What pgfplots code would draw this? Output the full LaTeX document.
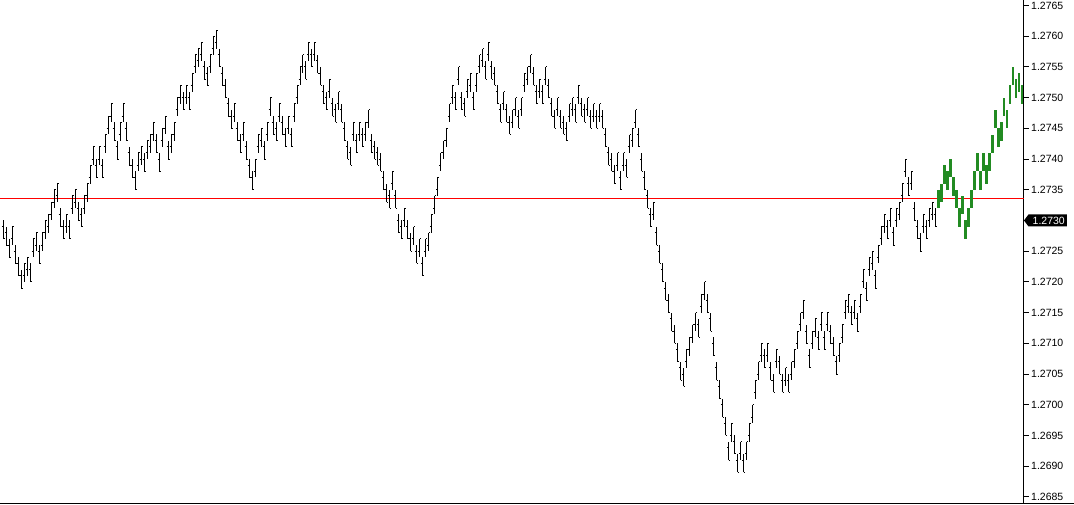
\documentclass[border=0pt]{standalone}
\usepackage{fontspec}
\setmainfont{Liberation Sans}
\usepackage{pgfplots}
\usepackage{pgfplotstable}
\pgfplotsset{compat=1.18}

\definecolor{gbar}{RGB}{34,139,34}

% open tick on the left, close tick on the right
\pgfdeclareplotmark{otick}{\pgfpathmoveto{\pgfqpoint{-1.5pt}{0pt}}\pgfpathlineto{\pgfqpoint{0pt}{0pt}}\pgfusepathqstroke}
\pgfdeclareplotmark{ctick}{\pgfpathmoveto{\pgfqpoint{0pt}{0pt}}\pgfpathlineto{\pgfqpoint{1.5pt}{0pt}}\pgfusepathqstroke}
\pgfdeclareplotmark{nomark}{}

% range bars: index, open, high, low, close
\pgfplotstableread{
i o h l c
0 1.2729 1.2730 1.2727 1.2727
1 1.2728 1.2729 1.2726 1.2726
2 1.2726 1.2727 1.2724 1.2724
3 1.2727 1.2729 1.2726 1.2729
4 1.2725 1.2726 1.2723 1.2723
5 1.2723 1.2724 1.2721 1.2721
6 1.2721 1.2722 1.2719 1.2719
7 1.2721 1.2723 1.2720 1.2723
8 1.2722 1.2724 1.2721 1.2724
9 1.2722 1.2723 1.2720 1.2720
10 1.2725 1.2727 1.2724 1.2727
11 1.2726 1.2728 1.2725 1.2728
12 1.2725 1.2726 1.2723 1.2723
13 1.2726 1.2728 1.2725 1.2728
14 1.2728 1.2730 1.2727 1.2730
15 1.2729 1.2731 1.2728 1.2731
16 1.2731 1.2733 1.2730 1.2733
17 1.2733 1.2735 1.2732 1.2735
18 1.2734 1.2736 1.2733 1.2736
19 1.2731 1.2732 1.2729 1.2729
20 1.2729 1.2730 1.2727 1.2727
21 1.2729 1.2731 1.2728 1.2731
22 1.2729 1.2730 1.2727 1.2727
23 1.2732 1.2734 1.2731 1.2734
24 1.2733 1.2735 1.2732 1.2735
25 1.2732 1.2733 1.2730 1.2730
26 1.2731 1.2732 1.2729 1.2729
27 1.2732 1.2734 1.2731 1.2734
28 1.2734 1.2736 1.2733 1.2736
29 1.2737 1.2739 1.2736 1.2739
30 1.2740 1.2742 1.2739 1.2742
31 1.2739 1.2740 1.2737 1.2737
32 1.2740 1.2742 1.2739 1.2742
33 1.2739 1.2740 1.2737 1.2737
34 1.2742 1.2744 1.2741 1.2744
35 1.2745 1.2747 1.2744 1.2747
36 1.2747 1.2749 1.2746 1.2749
37 1.2745 1.2746 1.2743 1.2743
38 1.2742 1.2743 1.2740 1.2740
39 1.2744 1.2746 1.2743 1.2746
40 1.2747 1.2749 1.2746 1.2749
41 1.2745 1.2746 1.2743 1.2743
42 1.2741 1.2742 1.2739 1.2739
43 1.2739 1.2740 1.2737 1.2737
44 1.2737 1.2738 1.2735 1.2735
45 1.2739 1.2741 1.2738 1.2741
46 1.2740 1.2742 1.2739 1.2742
47 1.2740 1.2741 1.2738 1.2738
48 1.2741 1.2743 1.2740 1.2743
49 1.2742 1.2744 1.2741 1.2744
50 1.2744 1.2746 1.2743 1.2746
51 1.2743 1.2744 1.2741 1.2741
52 1.2740 1.2741 1.2738 1.2738
53 1.2743 1.2745 1.2742 1.2745
54 1.2745 1.2747 1.2744 1.2747
55 1.2742 1.2743 1.2740 1.2740
56 1.2742 1.2744 1.2741 1.2744
57 1.2744 1.2746 1.2743 1.2746
58 1.2748 1.2750 1.2747 1.2750
59 1.2750 1.2752 1.2749 1.2752
60 1.2750 1.2751 1.2748 1.2748
61 1.2750 1.2752 1.2749 1.2752
62 1.2750 1.2751 1.2748 1.2748
63 1.2752 1.2754 1.2751 1.2754
64 1.2755 1.2757 1.2754 1.2757
65 1.2756 1.2758 1.2755 1.2758
66 1.2757 1.2759 1.2756 1.2759
67 1.2755 1.2756 1.2753 1.2753
68 1.2754 1.2755 1.2752 1.2752
69 1.2755 1.2757 1.2754 1.2757
70 1.2758 1.2760 1.2757 1.2760
71 1.2759 1.2761 1.2758 1.2761
72 1.2757 1.2758 1.2755 1.2755
73 1.2754 1.2755 1.2752 1.2752
74 1.2752 1.2753 1.2750 1.2750
75 1.2749 1.2750 1.2747 1.2747
76 1.2747 1.2748 1.2745 1.2745
77 1.2747 1.2749 1.2746 1.2749
78 1.2745 1.2746 1.2743 1.2743
79 1.2743 1.2744 1.2741 1.2741
80 1.2744 1.2746 1.2743 1.2746
81 1.2742 1.2743 1.2740 1.2740
82 1.2739 1.2740 1.2737 1.2737
83 1.2737 1.2738 1.2735 1.2735
84 1.2738 1.2740 1.2737 1.2740
85 1.2742 1.2744 1.2741 1.2744
86 1.2743 1.2745 1.2742 1.2745
87 1.2742 1.2743 1.2740 1.2740
88 1.2744 1.2746 1.2743 1.2746
89 1.2748 1.2750 1.2747 1.2750
90 1.2746 1.2747 1.2744 1.2744
91 1.2745 1.2746 1.2743 1.2743
92 1.2747 1.2749 1.2746 1.2749
93 1.2746 1.2747 1.2744 1.2744
94 1.2744 1.2745 1.2742 1.2742
95 1.2745 1.2747 1.2744 1.2747
96 1.2744 1.2745 1.2742 1.2742
97 1.2747 1.2749 1.2746 1.2749
98 1.2750 1.2752 1.2749 1.2752
99 1.2753 1.2755 1.2752 1.2755
100 1.2755 1.2757 1.2754 1.2757
101 1.2755 1.2756 1.2753 1.2753
102 1.2757 1.2759 1.2756 1.2759
103 1.2757 1.2758 1.2755 1.2755
104 1.2757 1.2759 1.2756 1.2759
105 1.2756 1.2757 1.2754 1.2754
106 1.2754 1.2755 1.2752 1.2752
107 1.2751 1.2752 1.2749 1.2749
108 1.2750 1.2751 1.2748 1.2748
109 1.2751 1.2753 1.2750 1.2753
110 1.2749 1.2750 1.2747 1.2747
111 1.2748 1.2749 1.2746 1.2746
112 1.2749 1.2751 1.2748 1.2751
113 1.2748 1.2749 1.2746 1.2746
114 1.2745 1.2746 1.2743 1.2743
115 1.2742 1.2743 1.2740 1.2740
116 1.2741 1.2742 1.2739 1.2739
117 1.2744 1.2746 1.2743 1.2746
118 1.2743 1.2744 1.2741 1.2741
119 1.2744 1.2746 1.2743 1.2746
120 1.2744 1.2745 1.2742 1.2742
121 1.2744 1.2746 1.2743 1.2746
122 1.2746 1.2748 1.2745 1.2748
123 1.2743 1.2744 1.2741 1.2741
124 1.2742 1.2743 1.2740 1.2740
125 1.2741 1.2742 1.2739 1.2739
126 1.2740 1.2741 1.2738 1.2738
127 1.2737 1.2738 1.2735 1.2735
128 1.2735 1.2736 1.2733 1.2733
129 1.2734 1.2735 1.2732 1.2732
130 1.2736 1.2738 1.2735 1.2738
131 1.2734 1.2735 1.2732 1.2732
132 1.2730 1.2731 1.2728 1.2728
133 1.2729 1.2730 1.2727 1.2727
134 1.2730 1.2732 1.2729 1.2732
135 1.2729 1.2730 1.2727 1.2727
136 1.2727 1.2728 1.2725 1.2725
137 1.2727 1.2729 1.2726 1.2729
138 1.2725 1.2726 1.2723 1.2723
139 1.2725 1.2727 1.2724 1.2727
140 1.2723 1.2724 1.2721 1.2721
141 1.2725 1.2727 1.2724 1.2727
142 1.2726 1.2728 1.2725 1.2728
143 1.2729 1.2731 1.2728 1.2731
144 1.2732 1.2734 1.2731 1.2734
145 1.2735 1.2737 1.2734 1.2737
146 1.2739 1.2741 1.2738 1.2741
147 1.2741 1.2743 1.2740 1.2743
148 1.2743 1.2745 1.2742 1.2745
149 1.2747 1.2749 1.2746 1.2749
150 1.2750 1.2752 1.2749 1.2752
151 1.2750 1.2751 1.2748 1.2748
152 1.2753 1.2755 1.2752 1.2755
153 1.2750 1.2751 1.2748 1.2748
154 1.2749 1.2750 1.2747 1.2747
155 1.2751 1.2753 1.2750 1.2753
156 1.2752 1.2754 1.2751 1.2754
157 1.2750 1.2751 1.2748 1.2748
158 1.2752 1.2754 1.2751 1.2754
159 1.2755 1.2757 1.2754 1.2757
160 1.2756 1.2758 1.2755 1.2758
161 1.2755 1.2756 1.2753 1.2753
162 1.2757 1.2759 1.2756 1.2759
163 1.2755 1.2756 1.2753 1.2753
164 1.2754 1.2755 1.2752 1.2752
165 1.2751 1.2752 1.2749 1.2749
166 1.2748 1.2749 1.2746 1.2746
167 1.2749 1.2751 1.2748 1.2751
168 1.2748 1.2749 1.2746 1.2746
169 1.2746 1.2747 1.2744 1.2744
170 1.2746 1.2748 1.2745 1.2748
171 1.2748 1.2750 1.2747 1.2750
172 1.2747 1.2748 1.2745 1.2745
173 1.2748 1.2750 1.2747 1.2750
174 1.2752 1.2754 1.2751 1.2754
175 1.2753 1.2755 1.2752 1.2755
176 1.2755 1.2757 1.2754 1.2757
177 1.2754 1.2755 1.2752 1.2752
178 1.2751 1.2752 1.2749 1.2749
179 1.2751 1.2753 1.2750 1.2753
180 1.2751 1.2752 1.2749 1.2749
181 1.2753 1.2755 1.2752 1.2755
182 1.2752 1.2753 1.2750 1.2750
183 1.2749 1.2750 1.2747 1.2747
184 1.2747 1.2748 1.2745 1.2745
185 1.2748 1.2750 1.2747 1.2750
186 1.2747 1.2748 1.2745 1.2745
187 1.2746 1.2747 1.2744 1.2744
188 1.2745 1.2746 1.2743 1.2743
189 1.2747 1.2749 1.2746 1.2749
190 1.2748 1.2750 1.2747 1.2750
191 1.2748 1.2749 1.2746 1.2746
192 1.2750 1.2752 1.2749 1.2752
193 1.2749 1.2750 1.2747 1.2747
194 1.2748 1.2749 1.2746 1.2746
195 1.2748 1.2750 1.2747 1.2750
196 1.2747 1.2748 1.2745 1.2745
197 1.2747 1.2749 1.2746 1.2749
198 1.2747 1.2748 1.2745 1.2745
199 1.2747 1.2749 1.2746 1.2749
200 1.2747 1.2748 1.2745 1.2745
201 1.2744 1.2745 1.2742 1.2742
202 1.2741 1.2742 1.2739 1.2739
203 1.2740 1.2741 1.2738 1.2738
204 1.2738 1.2739 1.2736 1.2736
205 1.2739 1.2741 1.2738 1.2741
206 1.2737 1.2738 1.2735 1.2735
207 1.2739 1.2741 1.2738 1.2741
208 1.2739 1.2740 1.2737 1.2737
209 1.2742 1.2744 1.2741 1.2744
210 1.2743 1.2745 1.2742 1.2745
211 1.2746 1.2748 1.2745 1.2748
212 1.2744 1.2745 1.2742 1.2742
213 1.2740 1.2741 1.2738 1.2738
214 1.2737 1.2738 1.2735 1.2735
215 1.2734 1.2735 1.2732 1.2732
216 1.2731 1.2732 1.2729 1.2729
217 1.2731 1.2733 1.2730 1.2733
218 1.2728 1.2729 1.2726 1.2726
219 1.2725 1.2726 1.2723 1.2723
220 1.2722 1.2723 1.2720 1.2720
221 1.2719 1.2720 1.2717 1.2717
222 1.2717 1.2718 1.2715 1.2715
223 1.2714 1.2715 1.2712 1.2712
224 1.2712 1.2713 1.2710 1.2710
225 1.2709 1.2710 1.2707 1.2707
226 1.2706 1.2707 1.2704 1.2704
227 1.2705 1.2706 1.2703 1.2703
228 1.2707 1.2709 1.2706 1.2709
229 1.2709 1.2711 1.2708 1.2711
230 1.2711 1.2713 1.2710 1.2713
231 1.2713 1.2715 1.2712 1.2715
232 1.2713 1.2714 1.2711 1.2711
233 1.2716 1.2718 1.2715 1.2718
234 1.2718 1.2720 1.2717 1.2720
235 1.2717 1.2718 1.2715 1.2715
236 1.2714 1.2715 1.2712 1.2712
237 1.2710 1.2711 1.2708 1.2708
238 1.2706 1.2707 1.2704 1.2704
239 1.2703 1.2704 1.2701 1.2701
240 1.2700 1.2701 1.2698 1.2698
241 1.2697 1.2698 1.2695 1.2695
242 1.2693 1.2694 1.2691 1.2691
243 1.2695 1.2697 1.2694 1.2697
244 1.2694 1.2695 1.2692 1.2692
245 1.2691 1.2692 1.2689 1.2689
246 1.2692 1.2694 1.2691 1.2694
247 1.2691 1.2692 1.2689 1.2689
248 1.2692 1.2694 1.2691 1.2694
249 1.2695 1.2697 1.2694 1.2697
250 1.2698 1.2700 1.2697 1.2700
251 1.2702 1.2704 1.2701 1.2704
252 1.2705 1.2707 1.2704 1.2707
253 1.2708 1.2710 1.2707 1.2710
254 1.2708 1.2709 1.2706 1.2706
255 1.2708 1.2710 1.2707 1.2710
256 1.2706 1.2707 1.2704 1.2704
257 1.2704 1.2705 1.2702 1.2702
258 1.2707 1.2709 1.2706 1.2709
259 1.2707 1.2708 1.2705 1.2705
260 1.2704 1.2705 1.2702 1.2702
261 1.2704 1.2706 1.2703 1.2706
262 1.2704 1.2705 1.2702 1.2702
263 1.2705 1.2707 1.2704 1.2707
264 1.2707 1.2709 1.2706 1.2709
265 1.2710 1.2712 1.2709 1.2712
266 1.2713 1.2715 1.2712 1.2715
267 1.2715 1.2717 1.2714 1.2717
268 1.2712 1.2713 1.2710 1.2710
269 1.2708 1.2709 1.2706 1.2706
270 1.2710 1.2712 1.2709 1.2712
271 1.2712 1.2714 1.2711 1.2714
272 1.2711 1.2712 1.2709 1.2709
273 1.2713 1.2715 1.2712 1.2715
274 1.2711 1.2712 1.2709 1.2709
275 1.2713 1.2715 1.2712 1.2715
276 1.2712 1.2713 1.2710 1.2710
277 1.2710 1.2711 1.2708 1.2708
278 1.2707 1.2708 1.2705 1.2705
279 1.2708 1.2710 1.2707 1.2710
280 1.2711 1.2713 1.2710 1.2713
281 1.2715 1.2717 1.2714 1.2717
282 1.2716 1.2718 1.2715 1.2718
283 1.2715 1.2716 1.2713 1.2713
284 1.2715 1.2717 1.2714 1.2717
285 1.2714 1.2715 1.2712 1.2712
286 1.2716 1.2718 1.2715 1.2718
287 1.2720 1.2722 1.2719 1.2722
288 1.2719 1.2720 1.2717 1.2717
289 1.2722 1.2724 1.2721 1.2724
290 1.2723 1.2725 1.2722 1.2725
291 1.2721 1.2722 1.2719 1.2719
292 1.2724 1.2726 1.2723 1.2726
293 1.2727 1.2729 1.2726 1.2729
294 1.2729 1.2731 1.2728 1.2731
295 1.2729 1.2730 1.2727 1.2727
296 1.2730 1.2732 1.2729 1.2732
297 1.2728 1.2729 1.2726 1.2726
298 1.2730 1.2732 1.2729 1.2732
299 1.2731 1.2733 1.2730 1.2733
300 1.2734 1.2736 1.2733 1.2736
301 1.2738 1.2740 1.2737 1.2740
302 1.2736 1.2737 1.2734 1.2734
303 1.2736 1.2738 1.2735 1.2738
304 1.2732 1.2733 1.2730 1.2730
305 1.2729 1.2730 1.2727 1.2727
306 1.2727 1.2728 1.2725 1.2725
307 1.2729 1.2731 1.2728 1.2731
308 1.2729 1.2730 1.2727 1.2727
309 1.2730 1.2732 1.2729 1.2732
310 1.2731 1.2733 1.2730 1.2733
311 1.2731 1.2732 1.2729 1.2729
}\blackbars

\pgfplotstableread{
i o h l c
312 1.2733 1.2735 1.2732 1.2735
313 1.2734 1.2736 1.2733 1.2736
314 1.2737 1.2739 1.2736 1.2739
315 1.2737 1.2738 1.2735 1.2735
316 1.2738 1.2740 1.2737 1.2740
317 1.2736 1.2737 1.2734 1.2734
318 1.2734 1.2735 1.2732 1.2732
319 1.2731 1.2732 1.2729 1.2729
320 1.2732 1.2734 1.2731 1.2734
321 1.2729 1.2730 1.2727 1.2727
322 1.2730 1.2732 1.2729 1.2732
323 1.2733 1.2735 1.2732 1.2735
324 1.2736 1.2738 1.2735 1.2738
325 1.2739 1.2741 1.2738 1.2741
326 1.2737 1.2738 1.2735 1.2735
327 1.2739 1.2741 1.2738 1.2741
328 1.2738 1.2739 1.2736 1.2736
329 1.2739 1.2741 1.2738 1.2741
330 1.2742 1.2744 1.2741 1.2744
331 1.2746 1.2748 1.2745 1.2748
332 1.2744 1.2745 1.2742 1.2742
333 1.2744 1.2746 1.2743 1.2746
334 1.2748 1.2750 1.2747 1.2750
335 1.2747 1.2748 1.2745 1.2745
336 1.2750 1.2752 1.2749 1.2752
337 1.2753 1.2755 1.2752 1.2755
338 1.2752 1.2753 1.2750 1.2750
339 1.2752 1.2754 1.2751 1.2754
340 1.2751 1.2752 1.2749 1.2749
}\greenbars

\begin{document}
\begin{tikzpicture}
\path[use as bounding box] (0,0) rectangle (1074pt,504pt);
\begin{axis}[
    at={(0pt,1pt)}, anchor=south west,
    scale only axis, width=1024pt, height=503pt,
    xmin=-1.1, xmax=340.57,
    ymin=1.26840, ymax=1.27659,
    axis x line=none,
    axis y line*=right,
    axis line style={black, line width=1pt},
    tick align=outside,
    major tick length=5pt,
    ytick style={black, line width=1pt},
    ytick={1.2685,1.2690,1.2695,1.2700,1.2705,1.2710,1.2715,1.2720,1.2725,1.2735,1.2740,1.2745,1.2750,1.2755,1.2760,1.2765},
    yticklabels={1.2685,1.2690,1.2695,1.2700,1.2705,1.2710,1.2715,1.2720,1.2725,1.2735,1.2740,1.2745,1.2750,1.2755,1.2760,1.2765},
    yticklabel style={font=\fontsize{10.5}{12}\selectfont, anchor=west, inner sep=0pt, xshift=2pt},
    scaled y ticks=false,
]
\addplot[red, line width=1pt] coordinates {(-1.1,1.27335) (340.57,1.27335)};

\addplot[black, line width=1pt, only marks, mark=otick,
    error bars/.cd, y dir=both, y explicit, error mark=none,
    error bar style={black, line width=1pt}]
  table[x=i, y=o, y error plus expr=\thisrow{h}-\thisrow{o}, y error minus expr=\thisrow{o}-\thisrow{l}] {\blackbars};
\addplot[black, line width=1pt, only marks, mark=ctick] table[x=i, y=c] {\blackbars};

\addplot[gbar, line width=2.4pt, only marks, mark=nomark,
    error bars/.cd, y dir=both, y explicit, error mark=none,
    error bar style={gbar, line width=2.4pt}]
  table[x=i, y=o, y error plus expr=\thisrow{h}-\thisrow{o}, y error minus expr=\thisrow{o}-\thisrow{l}] {\greenbars};

\coordinate (lp) at (axis cs:340.57,1.2730);
\end{axis}
\draw[black, line width=1pt] (0pt,1pt) -- (1074pt,1pt);
\fill[black] (lp) -- ++(4.5pt,6pt) -- ++(38.5pt,0pt) -- ++(0pt,-12pt) -- ++(-38.5pt,0pt) -- cycle;
\node[text=white, font=\fontsize{10.5}{12}\selectfont, anchor=west, inner sep=0pt, xshift=8.5pt] at (lp) {1.2730};
\end{tikzpicture}
\end{document}
